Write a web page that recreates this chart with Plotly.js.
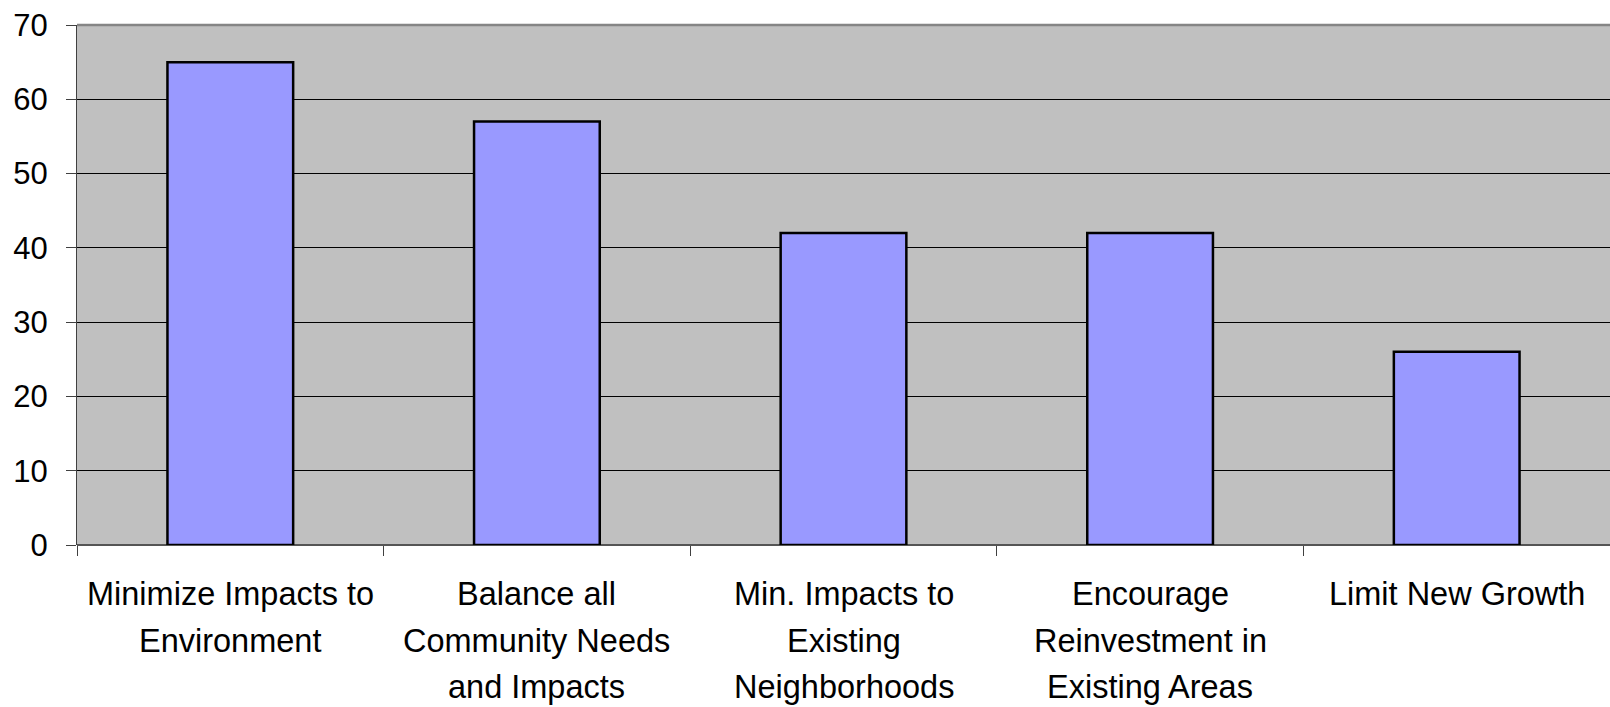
<!DOCTYPE html>
<html>
<head>
<meta charset="utf-8">
<script src="https://cdn.plot.ly/plotly-3.0.1.min.js"></script>
<style>html,body{margin:0;padding:0;background:#fff;}#chart{width:1610px;height:707px;}</style>
</head>
<body>
<div id="chart"></div>
<script>
const categories = ["Minimize Impacts to Environment", "Balance all Community Needs and Impacts", "Min. Impacts to Existing Neighborhoods", "Encourage Reinvestment in Existing Areas", "Limit New Growth"];
const labelLines = [
  ["Minimize Impacts to", "Environment"],
  ["Balance all", "Community Needs", "and Impacts"],
  ["Min. Impacts to", "Existing", "Neighborhoods"],
  ["Encourage", "Reinvestment in", "Existing Areas"],
  ["Limit New Growth"]
];
const values = [65, 57, 42, 42, 26];
const yTicks = [0, 10, 20, 30, 40, 50, 60, 70];

const FONT = "Liberation Sans, Arial, sans-serif";
const annotations = [];
categories.forEach((c, i) => {
  labelLines[i].forEach((line, j) => {
    annotations.push({
      x: c, xref: "x", y: 0, yref: "paper",
      xanchor: "center", yanchor: "top",
      yshift: -30 - j * 46.5,
      borderpad: 0,
      showarrow: false,
      text: line,
      font: {family: FONT, size: 32.5, color: "#000"}
    });
  });
});

const trace = {
  type: "bar",
  x: categories,
  y: values,
  marker: {color: "#9999FF", line: {color: "#000", width: 2.5}},
  hoverinfo: "x+y"
};

const layout = {
  width: 1610, height: 707,
  margin: {l: 77, r: 0, t: 25, b: 162},
  paper_bgcolor: "#fff",
  plot_bgcolor: "#C0C0C0",
  bargap: 0.59,
  showlegend: false,
  font: {family: FONT, size: 31, color: "#000"},
  xaxis: {
    type: "category",
    showticklabels: false,
    ticks: "outside", tickson: "boundaries", ticklen: 10, tickcolor: "#404040", tickwidth: 1,
    showgrid: false, zeroline: false, showline: false,
    fixedrange: true
  },
  yaxis: {
    range: [0, 70],
    tickvals: yTicks,
    ticktext: yTicks.map(String),
    ticks: "outside", ticklen: 10, tickcolor: "#404040", tickwidth: 1,
    ticklabelstandoff: 12,
    showgrid: true, gridcolor: "#000", gridwidth: 1,
    zeroline: false,
    showline: true, linecolor: "#404040", linewidth: 1,
    tickfont: {family: FONT, size: 31, color: "#000"},
    fixedrange: true
  },
  shapes: [
    {type: "line", xref: "paper", yref: "paper", x0: 0, x1: 1, y0: 1, y1: 1, line: {color: "#858585", width: 2.5}, layer: "above"},
    {type: "line", xref: "paper", yref: "paper", x0: 0, x1: 1, y0: 0, y1: 0, line: {color: "#555", width: 2}, layer: "below"}
  ],
  annotations: annotations
};

Plotly.newPlot("chart", [trace], layout, {displayModeBar: false, staticPlot: true});
</script>
</body>
</html>
